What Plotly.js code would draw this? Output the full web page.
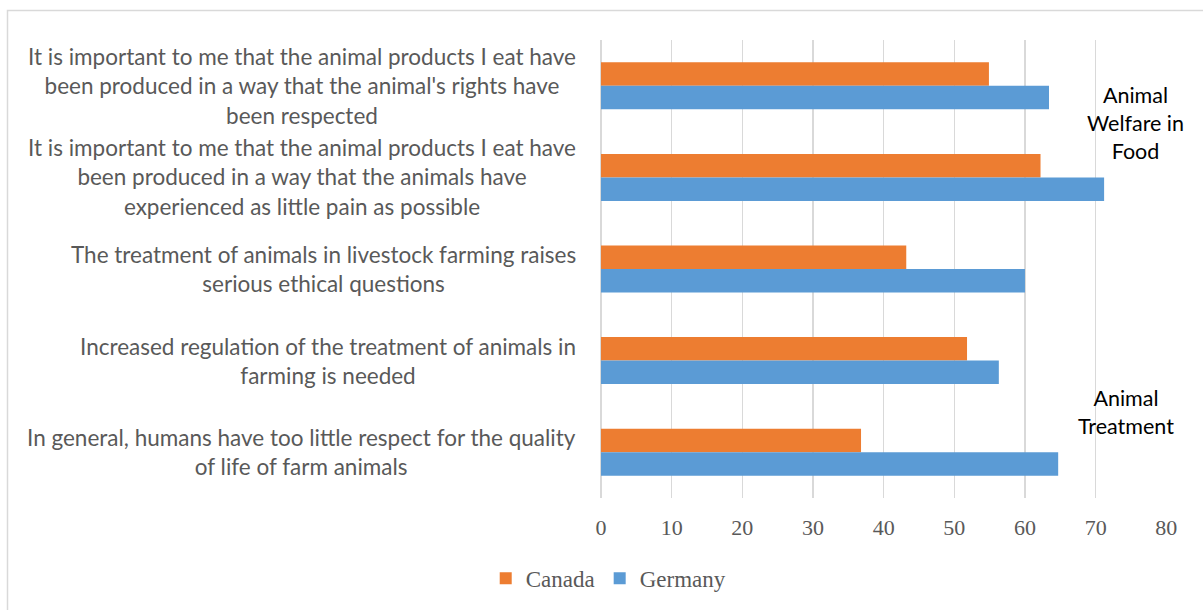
<!DOCTYPE html>
<html>
<head>
<meta charset="utf-8">
<script src="https://cdn.plot.ly/plotly-3.0.1.min.js"></script>
<style>html,body{margin:0;padding:0;background:#fff;}#chart{width:1203px;height:610px;}</style>
</head>
<body>
<div id="chart"></div>
<script>
// Data
const categories = [
  "It is important to me that the animal products I eat have<br>been produced in a way that the animal's rights have<br>been respected",
  "It is important to me that the animal products I eat have<br>been produced in a way that the animals have<br>experienced as little pain as possible",
  "The treatment of animals in livestock farming raises<br>serious ethical questions",
  "Increased regulation of the treatment of animals in<br>farming is needed",
  "In general, humans have too little respect for the quality<br>of life of farm animals"
];
const canada = [54.9, 62.2, 43.2, 51.8, 36.8];
const germany = [63.4, 71.2, 60.0, 56.3, 64.7];
const seriesNames = ["Canada", "Germany"];
const groupLabels = ["Animal<br>Welfare in<br>Food", "Animal<br>Treatment"];

const catKeys = categories.map((c, i) => "c" + i);

const traces = [
  {type: 'bar', orientation: 'h', name: seriesNames[0], y: catKeys, x: canada,
   marker: {color: '#ED7D31'}, hoverinfo: 'x'},
  {type: 'bar', orientation: 'h', name: seriesNames[1], y: catKeys, x: germany,
   marker: {color: '#5B9BD5'}, hoverinfo: 'x'}
];

const annotations = [];
categories.forEach((c, i) => {
  annotations.push({
    xref: 'paper', yref: 'y', x: 0, y: catKeys[i],
    xanchor: 'right', yanchor: 'middle', align: 'center',
    xshift: -23,
    text: c, showarrow: false,
    font: {family: 'Lato, "Noto Sans", sans-serif', size: 22.5, color: '#595959'}
  });
});

// group labels (right side)
const groupPos = [{x: 1135, y: 123}, {x: 1126, y: 412}];
groupLabels.forEach((g, k) => {
  annotations.push({
    xref: 'paper', yref: 'paper',
    x: (groupPos[k].x - 601) / 566, y: (498 - groupPos[k].y) / 458,
    xanchor: 'center', yanchor: 'middle', align: 'center',
    text: g, showarrow: false,
    font: {family: 'Lato, "Noto Sans", sans-serif', size: 21.5, color: '#000000'}
  });
});

const layout = {
  width: 1203, height: 610,
  margin: {l: 601, r: 36, t: 40, b: 112, pad: 0},
  paper_bgcolor: '#ffffff', plot_bgcolor: '#ffffff',
  barmode: 'group', bargap: 0.487, bargroupgap: 0,
  showlegend: true,
  legend: {orientation: 'h', xref: 'container', yref: 'container', x: 0.506, y: 0.052,
           xanchor: 'center', yanchor: 'middle', traceorder: 'normal',
           font: {family: '"Liberation Serif", "Times New Roman", serif', size: 23, color: '#595959'},
           itemwidth: 30},
  xaxis: {range: [0, 80.1], dtick: 10, tick0: 0, showgrid: true, gridcolor: '#d9d9d9', gridwidth: 1.3,
          zeroline: true, zerolinecolor: '#d9d9d9', zerolinewidth: 1.3,
          showline: false, ticks: '', ticklabelstandoff: 14,
          tickfont: {family: '"Liberation Serif", "Times New Roman", serif', size: 22, color: '#595959'},
          fixedrange: true},
  yaxis: {type: 'category', autorange: 'reversed', showticklabels: false, showgrid: false,
          zeroline: false, showline: false, ticks: '', fixedrange: true},
  annotations: annotations,
  shapes: [
    {type: 'path', xref: 'paper', yref: 'paper',
     path: 'M ' + ((7.5 - 601) / 566) + ' ' + ((498 - 640) / 458) + ' L ' + ((7.5 - 601) / 566) + ' ' + ((498 - 10.5) / 458) + ' L ' + ((1220 - 601) / 566) + ' ' + ((498 - 10.5) / 458),
     line: {color: '#d9d9d9', width: 1.5}}
  ],
  font: {family: 'Lato, sans-serif'}
};

Plotly.newPlot('chart', traces, layout, {displayModeBar: false, staticPlot: true});
</script>
</body>
</html>
